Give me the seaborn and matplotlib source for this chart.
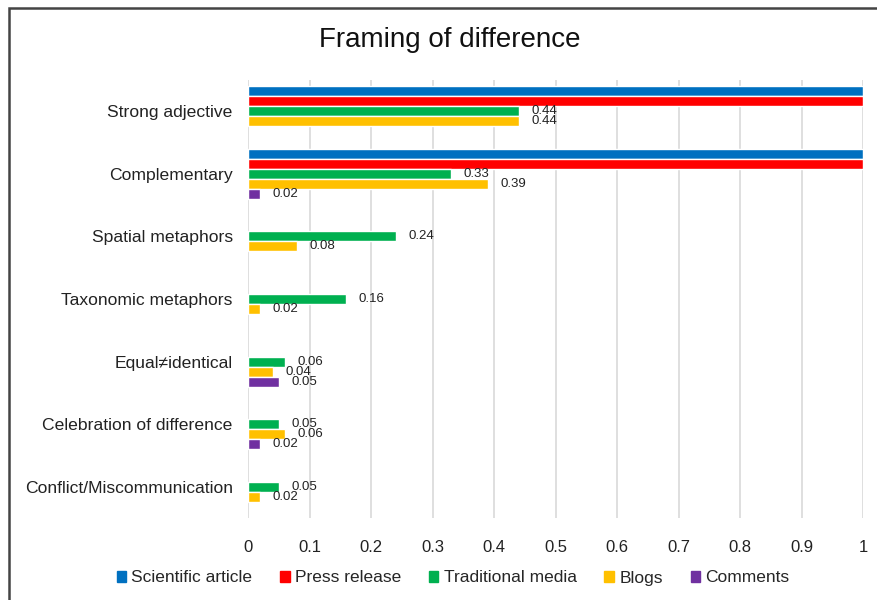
import numpy as np
import pandas as pd
import seaborn as sns
import matplotlib.pyplot as plt
from matplotlib.patches import Patch, Rectangle

categories = ["Strong adjective", "Complementary", "Spatial metaphors",
              "Taxonomic metaphors", "Equal\u2260identical",
              "Celebration of difference", "Conflict/Miscommunication"]
series = ["Scientific article", "Press release", "Traditional media", "Blogs", "Comments"]
colors = ["#0070C0", "#FF0000", "#00B050", "#FFC000", "#7030A0"]

scientific = [1, 1, None, None, None, None, None]
press = [1, 1, None, None, None, None, None]
traditional = [0.44, 0.33, 0.24, 0.16, 0.06, 0.05, 0.05]
blogs = [0.44, 0.39, 0.08, 0.02, 0.04, 0.06, 0.02]
comments = [None, 0.02, None, None, 0.05, 0.02, None]

rows = []
for name, vals in zip(series, [scientific, press, traditional, blogs, comments]):
    for cat, v in zip(categories, vals):
        if v is not None:
            rows.append({"category": cat, "series": name, "value": v})
df = pd.DataFrame(rows)

sns.set_style("white")
plt.rcParams["font.family"] = ["Liberation Sans", "DejaVu Sans"]

fig = plt.figure(figsize=(8.77, 6), dpi=100)
ax = fig.add_axes([248 / 877, 1 - 518 / 600, 615 / 877, 438 / 600])
sns.barplot(data=df, y="category", x="value", hue="series", order=categories,
            hue_order=series, palette=colors, orient="h", width=0.8,
            saturation=1, ax=ax, legend=False)

for c in ax.containers:
    ax.bar_label(c, labels=[f"{v:g}" for v in c.datavalues], padding=9,
                 fontsize=9.5, color="#222222")

ax.set_xlim(0, 1)
ax.set_xticks(np.arange(0, 1.01, 0.1))
ax.set_xticklabels(["0"] + [f"{t:.1f}" for t in np.arange(0.1, 0.95, 0.1)] + ["1"])
ax.grid(axis="x", color="#D9D9D9", linewidth=1.2)
ax.set_axisbelow(True)
for s in ax.spines.values():
    s.set_visible(False)
ax.tick_params(axis="x", length=0, pad=16, labelsize=12, colors="#222222")
ax.tick_params(axis="y", length=0, pad=11, labelsize=12.6, colors="#222222")
ax.set_xlabel("")
ax.set_ylabel("")

fig.text(450 / 877, 1 - 40 / 600, "Framing of difference", ha="center", va="center",
         fontsize=20, color="#111111")

handles = [Patch(color=c, label=s) for c, s in zip(colors, series)]
fig.legend(handles=handles, loc="center", bbox_to_anchor=(453 / 877, 1 - 578 / 600),
           ncol=5, frameon=False, fontsize=12.5, handlelength=0.55, handleheight=0.55,
           handletextpad=0.3, columnspacing=1.6)

fig.patches.append(Rectangle((9 / 877, -0.05), 1.1, 1.05 - 8 / 600,
                             transform=fig.transFigure, fill=False,
                             edgecolor="#444444", linewidth=1.8))

fig.savefig("out.png", dpi=100)
